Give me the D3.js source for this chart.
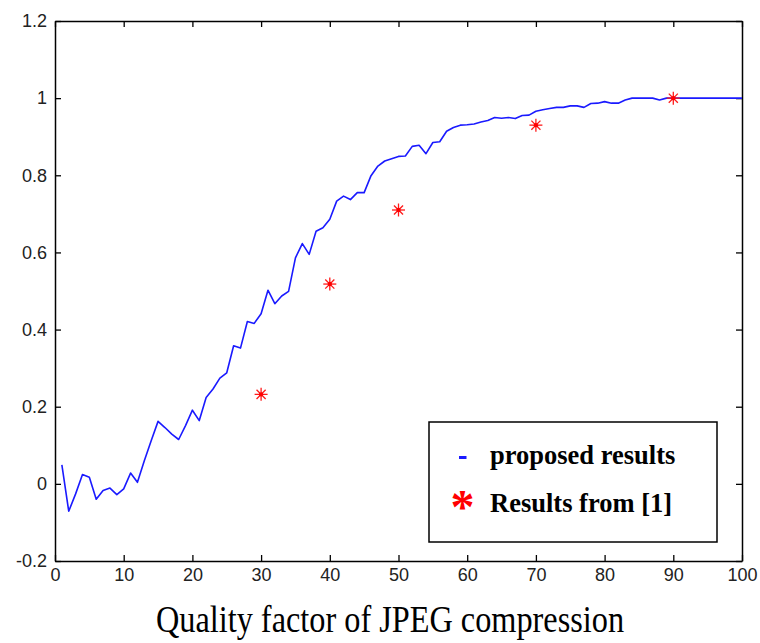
<!DOCTYPE html>
<html>
<head>
<meta charset="utf-8">
<script src="https://cdn.jsdelivr.net/npm/d3@7"></script>
<style>
  body { margin: 0; background: #fff; }
  svg { display: block; }
</style>
</head>
<body>
<svg id="vis" width="760" height="643"></svg>
<script>
// quality factor (x) for the proposed curve
var qualityFactors = [
  1, 2, 3, 4, 5, 6, 7, 8, 9, 10,
  11, 12, 13, 14, 15, 16, 17, 18, 19, 20,
  21, 22, 23, 24, 25, 26, 27, 28, 29, 30,
  31, 32, 33, 34, 35, 36, 37, 38, 39, 40,
  41, 42, 43, 44, 45, 46, 47, 48, 49, 50,
  51, 52, 53, 54, 55, 56, 57, 58, 59, 60,
  61, 62, 63, 64, 65, 66, 67, 68, 69, 70,
  71, 72, 73, 74, 75, 76, 77, 78, 79, 80,
  81, 82, 83, 84, 85, 86, 87, 88, 89, 90,
  91, 92, 93, 94, 95, 96, 97, 98, 99, 100
];

// proposed results
var proposedValues = [
  0.049, -0.071, -0.026, 0.024, 0.017, -0.040, -0.017, -0.011, -0.028, -0.013,
  0.028, 0.004, 0.060, 0.112, 0.162, 0.146, 0.129, 0.115, 0.151, 0.191,
  0.164, 0.224, 0.246, 0.274, 0.288, 0.358, 0.352, 0.421, 0.416, 0.441,
  0.502, 0.467, 0.487, 0.499, 0.586, 0.623, 0.595, 0.655, 0.664, 0.686,
  0.733, 0.746, 0.737, 0.755, 0.755, 0.799, 0.824, 0.837, 0.843, 0.849,
  0.850, 0.875, 0.878, 0.856, 0.885, 0.887, 0.914, 0.924, 0.930, 0.931,
  0.933, 0.938, 0.942, 0.950, 0.948, 0.950, 0.947, 0.955, 0.956, 0.966,
  0.970, 0.973, 0.976, 0.976, 0.980, 0.980, 0.976, 0.986, 0.987, 0.991,
  0.987, 0.987, 0.995, 1.000, 1.000, 1.000, 1.000, 0.995, 1.000, 1.000,
  1.000, 1.000, 1.000, 1.000, 1.000, 1.000, 1.000, 1.000, 1.000, 1.000
];

// results from [1]
var refQuality = [30, 40, 50, 70, 90];
var refValues = [0.232, 0.518, 0.710, 0.930, 1.000];

var xTicks = [0, 10, 20, 30, 40, 50, 60, 70, 80, 90, 100];
var yTicks = [-0.2, 0, 0.2, 0.4, 0.6, 0.8, 1, 1.2];

var legendLabels = ["proposed results", "Results from [1]"];
var xTitle = "Quality factor of JPEG compression";

// plot box (window.top is taken, so own names)
var plotLeft = 55, plotRight = 742, plotTop = 21, plotBottom = 561;

var svg = d3.select("#vis");

var x = d3.scaleLinear().domain([0, 100]).range([plotLeft, plotRight]);
var y = d3.scaleLinear().domain([-0.2, 1.2]).range([plotBottom, plotTop]);

var tickFont = "'Liberation Sans', Arial, sans-serif";
var serifFont = "'Liberation Serif', 'Times New Roman', serif";

// axes, ticks pointing inward like matlab
function styleAxis(g) {
  g.selectAll("path.domain").attr("stroke", "#000").attr("stroke-width", 1.5);
  g.selectAll(".tick line").attr("stroke", "#000").attr("stroke-width", 1.3);
  g.selectAll(".tick text")
    .attr("fill", "#222")
    .style("font-family", tickFont)
    .style("font-size", "18px");
}

svg.append("g")
  .attr("transform", "translate(0," + plotBottom + ")")
  .call(d3.axisBottom(x).tickValues(xTicks).tickSize(-6).tickSizeOuter(0).tickPadding(7)
    .tickFormat(d3.format("d")))
  .call(styleAxis);

svg.append("g")
  .attr("transform", "translate(0," + plotTop + ")")
  .call(d3.axisTop(x).tickValues(xTicks).tickSize(-6).tickSizeOuter(0).tickFormat(""))
  .call(styleAxis);

svg.append("g")
  .attr("transform", "translate(" + plotLeft + ",0)")
  .call(d3.axisLeft(y).tickValues(yTicks).tickSize(-6).tickSizeOuter(0).tickPadding(8)
    .tickFormat(function(d) { return String(+d.toFixed(1)); }))
  .call(styleAxis);

svg.append("g")
  .attr("transform", "translate(" + plotRight + ",0)")
  .call(d3.axisRight(y).tickValues(yTicks).tickSize(-6).tickSizeOuter(0).tickFormat(""))
  .call(styleAxis);

// proposed curve
var line = d3.line()
  .x(function(d, i) { return x(qualityFactors[i]); })
  .y(function(d) { return y(d); });

svg.append("path")
  .datum(proposedValues)
  .attr("d", line)
  .attr("fill", "none")
  .attr("stroke", "#1a1aff")
  .attr("stroke-width", 1.6)
  .attr("stroke-linejoin", "round");

// star markers for [1]
function starMarker(g, r) {
  g.append("line").attr("x1", -r).attr("x2", r).attr("y1", 0).attr("y2", 0);
  g.append("line").attr("x1", 0).attr("x2", 0).attr("y1", -r).attr("y2", r);
  g.append("line").attr("x1", -r * 0.7).attr("x2", r * 0.7).attr("y1", -r * 0.7).attr("y2", r * 0.7);
  g.append("line").attr("x1", -r * 0.7).attr("x2", r * 0.7).attr("y1", r * 0.7).attr("y2", -r * 0.7);
  g.selectAll("line").attr("stroke", "#ff1a1a").attr("stroke-width", 1.3);
  g.append("circle").attr("r", 2.2).attr("fill", "#ff0000");
}

refValues.forEach(function(v, i) {
  var g = svg.append("g")
    .attr("transform", "translate(" + x(refQuality[i]) + "," + y(v) + ")");
  starMarker(g, 6.5);
});

// legend
var leg = svg.append("g");
leg.append("rect")
  .attr("x", 429).attr("y", 422)
  .attr("width", 288).attr("height", 120)
  .attr("fill", "#fff")
  .attr("stroke", "#000")
  .attr("stroke-width", 1.5);

leg.append("rect")
  .attr("x", 459).attr("y", 456)
  .attr("width", 7.5).attr("height", 3)
  .attr("fill", "#1a1aff");

leg.append("text")
  .attr("x", 462.5).attr("y", 523)
  .attr("text-anchor", "middle")
  .attr("fill", "#ff0000")
  .style("font-family", serifFont)
  .style("font-weight", "bold")
  .style("font-size", "48px")
  .text("*");

leg.selectAll("text.lab")
  .data(legendLabels)
  .enter().append("text")
  .attr("class", "lab")
  .attr("x", 490)
  .attr("y", function(d, i) { return 464 + i * 47.5; })
  .attr("fill", "#000")
  .style("font-family", serifFont)
  .style("font-weight", "bold")
  .style("font-size", "26.5px")
  .text(function(d) { return d; });

// x title
svg.append("text")
  .attr("transform", "translate(390,632) scale(1,1.16)")
  .attr("text-anchor", "middle")
  .attr("fill", "#000")
  .style("font-family", serifFont)
  .style("font-size", "32.3px")
  .text(xTitle);
</script>
</body>
</html>
